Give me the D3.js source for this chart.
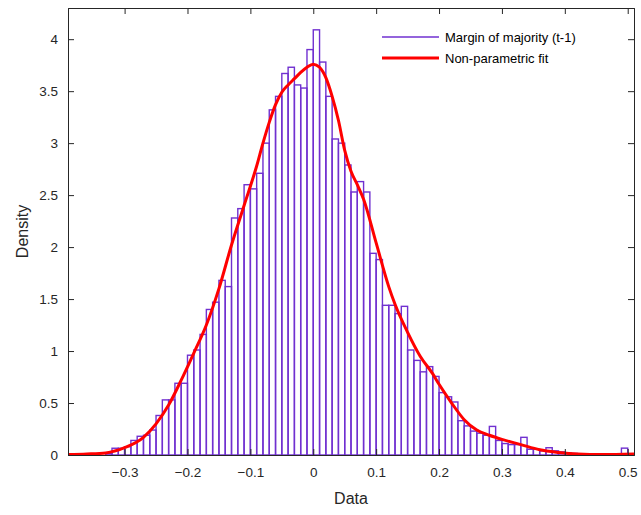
<!DOCTYPE html>
<html>
<head>
<meta charset="utf-8">
<script src="https://cdn.jsdelivr.net/npm/d3@7"></script>
<style>
  html, body { margin: 0; padding: 0; background: #fff; }
  svg { display: block; font-family: "Liberation Sans", Arial, Helvetica, sans-serif; }
</style>
</head>
<body>
<svg id="chart" width="641" height="515"></svg>
<script>
// Histogram bins (left edges) and density heights
const binLeft = [-0.33,-0.32,-0.31,-0.30,-0.29,-0.28,-0.27,-0.26,-0.25,-0.24,-0.23,-0.22,-0.21,-0.20,-0.19,-0.18,-0.17,-0.16,-0.15,-0.14,-0.13,-0.12,-0.11,-0.10,-0.09,-0.08,-0.07,-0.06,-0.05,-0.04,-0.03,-0.02,-0.01,0.00,0.01,0.02,0.03,0.04,0.05,0.06,0.07,0.08,0.09,0.10,0.11,0.12,0.13,0.14,0.15,0.16,0.17,0.18,0.19,0.20,0.21,0.22,0.23,0.24,0.25,0.26,0.27,0.28,0.29,0.30,0.31,0.32,0.33,0.34,0.35,0.36,0.37,0.38,0.39,0.40,0.41,0.42,0.43,0.44,0.45,0.46,0.47,0.48,0.49];
const binWidth = 0.01;
const density = [0.015,0.065,0.065,0.08,0.14,0.18,0.19,0.24,0.38,0.53,0.53,0.69,0.69,0.96,1.01,1.16,1.40,1.47,1.68,1.62,2.28,2.37,2.60,2.56,2.71,3.00,3.32,3.45,3.67,3.73,3.56,3.53,3.90,4.09,3.78,3.45,3.04,3.00,2.79,2.53,2.63,2.53,1.94,1.88,1.44,1.44,1.36,1.43,1.01,0.91,0.80,0.85,0.756,0.60,0.56,0.51,0.33,0.28,0.23,0.21,0.19,0.275,0.14,0.11,0.10,0.10,0.17,0.055,0.055,0.04,0.07,0.04,0.03,0.02,0.015,0.01,0,0.01,0,0,0.01,0,0.066];

// Non-parametric fit (kernel density) sample points
const fitX = [-0.39,-0.36,-0.33,-0.30,-0.27,-0.25,-0.23,-0.21,-0.19,-0.17,-0.15,-0.13,-0.11,-0.09,-0.08,-0.07,-0.06,-0.05,-0.04,-0.03,-0.02,-0.01,0.00,0.01,0.02,0.03,0.04,0.05,0.06,0.07,0.08,0.10,0.12,0.13,0.15,0.17,0.19,0.20,0.22,0.24,0.26,0.28,0.30,0.33,0.36,0.39,0.42,0.46,0.51];
const fitY = [0.005,0.01,0.02,0.07,0.17,0.30,0.48,0.72,0.98,1.25,1.60,2.02,2.40,2.78,3.00,3.20,3.37,3.49,3.56,3.62,3.68,3.73,3.76,3.73,3.63,3.45,3.22,2.93,2.73,2.60,2.46,2.04,1.62,1.45,1.18,0.95,0.78,0.68,0.50,0.34,0.24,0.19,0.15,0.10,0.05,0.025,0.01,0.005,0.01];

const xTicks = [-0.3,-0.2,-0.1,0,0.1,0.2,0.3,0.4,0.5];
const yTicks = [0,0.5,1,1.5,2,2.5,3,3.5,4];
const legendLabels = ["Margin of majority (t-1)", "Non-parametric fit"];

const W = 641, H = 515;
const m = {left: 68, right: 7, top: 8, bottom: 60};
const svg = d3.select("#chart");
const x = d3.scaleLinear().domain([-0.39, 0.51]).range([m.left, W - m.right]);
const y = d3.scaleLinear().domain([0, 4.3]).range([H - m.bottom, m.top]);

const axisColor = "#262626";
const purple = "#7030d0";
const red = "#ff0000";

// Bars
svg.append("g").selectAll("rect")
  .data(binLeft.map((b, i) => ({b, v: density[i]})))
  .join("rect")
  .attr("x", d => x(d.b))
  .attr("y", d => y(d.v))
  .attr("width", d => x(d.b + binWidth) - x(d.b))
  .attr("height", d => y(0) - y(d.v))
  .attr("fill", "none")
  .attr("stroke", purple)
  .attr("stroke-width", 1.4);

// Fit line
const line = d3.line().x(d => x(d[0])).y(d => y(d[1])).curve(d3.curveMonotoneX);
svg.append("path")
  .datum(fitX.map((v, i) => [v, fitY[i]]))
  .attr("d", line)
  .attr("fill", "none")
  .attr("stroke", red)
  .attr("stroke-width", 3)
  .attr("stroke-linejoin", "round");

// Axes
const fmt = d => (d === 0 ? "0" : d3.format("")(d));
const tickLen = 6;
const gx = svg.append("g").attr("transform", `translate(0,${y(0)})`)
  .call(d3.axisBottom(x).tickValues(xTicks).tickSize(-tickLen).tickPadding(12).tickFormat(fmt));
const gxt = svg.append("g").attr("transform", `translate(0,${m.top})`)
  .call(d3.axisTop(x).tickValues(xTicks).tickSize(-tickLen).tickFormat(""));
const gy = svg.append("g").attr("transform", `translate(${m.left},0)`)
  .call(d3.axisLeft(y).tickValues(yTicks).tickSize(-tickLen).tickPadding(10).tickFormat(fmt));
const gyr = svg.append("g").attr("transform", `translate(${W - m.right},0)`)
  .call(d3.axisRight(y).tickValues(yTicks).tickSize(-tickLen).tickFormat(""));

[gx, gxt, gy, gyr].forEach(g => {
  g.selectAll("path.domain").attr("stroke", axisColor).attr("stroke-width", 1);
  g.selectAll(".tick line").attr("stroke", axisColor).attr("stroke-width", 1);
  g.selectAll(".tick text").attr("fill", axisColor).style("font-size", "13.5px")
    .style("font-family", '"Liberation Sans", Arial, sans-serif');
});

// Axis labels
svg.append("text").attr("x", (x.range()[0] + x.range()[1]) / 2).attr("y", 504)
  .attr("text-anchor", "middle").attr("fill", axisColor).style("font-size", "16px").text("Data");
svg.append("text").attr("transform", `translate(28,${(y.range()[0] + y.range()[1]) / 2}) rotate(-90)`)
  .attr("text-anchor", "middle").attr("fill", axisColor).style("font-size", "16px").text("Density");

// Legend
const leg = svg.append("g");
const legColors = [purple, red];
const legWidths = [1.5, 3];
legendLabels.forEach((lab, i) => {
  const ly = 37 + i * 21;
  leg.append("line").attr("x1", 382).attr("x2", 439).attr("y1", ly).attr("y2", ly)
    .attr("stroke", legColors[i]).attr("stroke-width", legWidths[i]);
  leg.append("text").attr("x", 445).attr("y", ly).attr("dy", "0.35em")
    .attr("fill", "#000").style("font-size", "13px").text(lab);
});
</script>
</body>
</html>
